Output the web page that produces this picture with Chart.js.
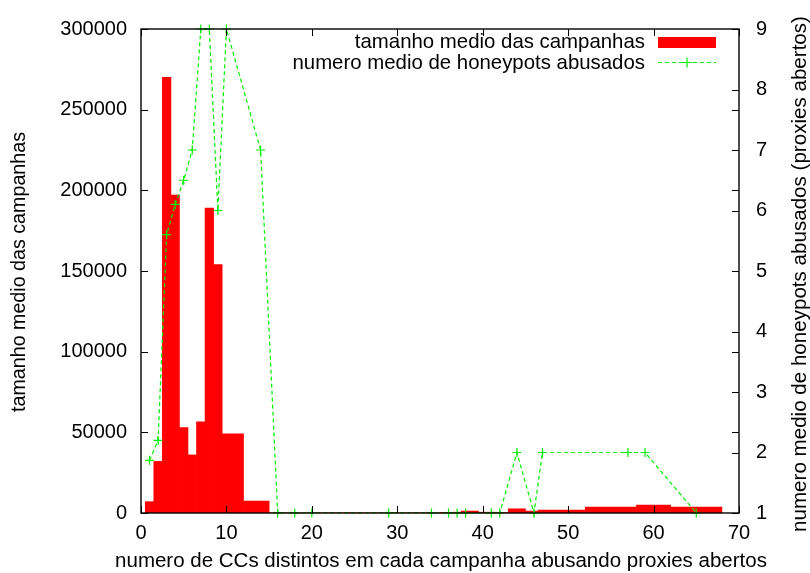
<!DOCTYPE html>
<html>
<head>
<meta charset="utf-8">
<script src="https://cdn.jsdelivr.net/npm/chart.js@4/dist/chart.umd.min.js"></script>
<style>
  body { margin: 0; background: #fff; }
</style>
</head>
<body>
<canvas id="grafico" width="810" height="573"></canvas>
<script>
// dados
const numeroCCs = [1, 2, 3, 4, 5, 6, 7, 8, 9, 10, 14, 16, 18, 20, 29, 34, 36, 37, 38, 41, 42, 44, 46, 47, 57, 59, 65];
const tamanhoMedio = [7000, 32000, 270000, 197000, 53000, 36000, 56500, 189000, 154000, 49000, 7400,
  150, 150, 150, 150, 150, 400, 500, 1200, 500, 300, 2600, 1200, 1800, 3700, 4900, 3700];
const honeypotsMedio = [1.87, 2.2, 5.6, 6.1, 6.5, 7.0, 9, 9, 6.0, 9, 7.0,
  1, 1, 1, 1, 1, 1, 1, 1, 1, 1, 2, 1, 2, 2, 2, 1];

const ticksX = [0, 10, 20, 30, 40, 50, 60, 70];
const ticksEsq = [0, 50000, 100000, 150000, 200000, 250000, 300000];
const ticksDir = [1, 2, 3, 4, 5, 6, 7, 8, 9];

const tituloX = 'numero de CCs distintos em cada campanha abusando proxies abertos';
const tituloEsq = 'tamanho medio das campanhas';
const tituloDir = 'numero medio de honeypots abusados (proxies abertos)';

const fonte = '"Liberation Sans", Arial, sans-serif';
Chart.defaults.font.family = fonte;
Chart.defaults.font.size = 20;
Chart.defaults.color = '#000';

// ajusta o tamanho da fonte para o texto ocupar a largura vista no original
function fonteAjustada(ctx, texto, largura) {
  ctx.font = '20px ' + fonte;
  const tam = 20 * largura / ctx.measureText(texto).width;
  return tam.toFixed(2) + 'px ' + fonte;
}

// moldura, ticks para dentro, legenda e titulos (estilo gnuplot)
const estiloGnuplot = {
  id: 'estiloGnuplot',
  afterDraw(chart) {
    const { ctx, chartArea: a, scales } = chart;
    const L = 7;
    ctx.save();
    ctx.strokeStyle = '#000';
    ctx.lineWidth = 1;
    ctx.beginPath();
    scales.x.ticks.forEach(t => {
      const px = Math.round(scales.x.getPixelForValue(t.value)) + 0.5;
      ctx.moveTo(px, a.bottom); ctx.lineTo(px, a.bottom - L);
      ctx.moveTo(px, a.top); ctx.lineTo(px, a.top + L);
    });
    scales.y.ticks.forEach(t => {
      const py = Math.round(scales.y.getPixelForValue(t.value)) + 0.5;
      ctx.moveTo(a.left, py); ctx.lineTo(a.left + L, py);
      ctx.moveTo(a.right, py); ctx.lineTo(a.right - L, py);
    });
    scales.y2.ticks.forEach(t => {
      const py = Math.round(scales.y2.getPixelForValue(t.value)) + 0.5;
      ctx.moveTo(a.right, py); ctx.lineTo(a.right - L, py);
    });
    ctx.stroke();
    ctx.lineWidth = 1.4;
    ctx.strokeRect(a.left, a.top, a.right - a.left, a.bottom - a.top);

    // legenda
    const ds0 = chart.data.datasets[0];
    const ds1 = chart.data.datasets[1];
    ctx.font = '20.4px ' + fonte;
    ctx.fillStyle = '#000';
    ctx.textAlign = 'right';
    ctx.textBaseline = 'alphabetic';
    ctx.fillText(ds0.label, 645, 48);
    ctx.fillText(ds1.label, 645, 69);
    ctx.fillStyle = ds0.backgroundColor;
    ctx.fillRect(658, 37, 58, 11);
    ctx.strokeStyle = ds1.borderColor;
    ctx.lineWidth = ds1.borderWidth;
    ctx.setLineDash(ds1.borderDash);
    ctx.beginPath();
    ctx.moveTo(658, 62.5); ctx.lineTo(716, 62.5);
    ctx.stroke();
    ctx.setLineDash([]);
    ctx.beginPath();
    ctx.moveTo(682, 62.5); ctx.lineTo(692, 62.5);
    ctx.moveTo(687, 57.5); ctx.lineTo(687, 67.5);
    ctx.stroke();

    // titulos dos eixos
    ctx.fillStyle = '#000';
    ctx.textAlign = 'center';
    ctx.textBaseline = 'middle';
    ctx.font = fonteAjustada(ctx, tituloX, 652);
    ctx.fillText(tituloX, 441, 561);

    ctx.save();
    ctx.font = fonteAjustada(ctx, tituloEsq, 280);
    ctx.translate(20, 272);
    ctx.rotate(-Math.PI / 2);
    ctx.fillText(tituloEsq, 0, 0);
    ctx.restore();

    ctx.font = fonteAjustada(ctx, tituloDir, 516);
    ctx.translate(800, 274);
    ctx.rotate(-Math.PI / 2);
    ctx.fillText(tituloDir, 0, 0);
    ctx.restore();
  }
};

const ctx = document.getElementById('grafico').getContext('2d');

new Chart(ctx, {
  type: 'bar',
  data: {
    datasets: [
      {
        label: 'tamanho medio das campanhas',
        data: numeroCCs.map((x, i) => ({ x: x, y: tamanhoMedio[i] })),
        backgroundColor: '#ff0000',
        borderWidth: 0,
        barThickness: 'flex',
        categoryPercentage: 1,
        barPercentage: 1,
        yAxisID: 'y',
        order: 2
      },
      {
        type: 'line',
        label: 'numero medio de honeypots abusados',
        data: numeroCCs.map((x, i) => ({ x: x, y: honeypotsMedio[i] })),
        borderColor: '#00ee00',
        borderWidth: 1.2,
        borderDash: [4, 3],
        pointStyle: 'cross',
        pointRadius: 4.5,
        pointBorderColor: '#00ee00',
        pointBorderWidth: 1.2,
        tension: 0,
        fill: false,
        clip: false,
        yAxisID: 'y2',
        order: 1
      }
    ]
  },
  options: {
    responsive: false,
    animation: false,
    devicePixelRatio: 1,
    layout: { padding: { top: 25, left: 0, right: 0, bottom: 0 } },
    plugins: {
      legend: { display: false },
      tooltip: { enabled: false }
    },
    scales: {
      x: {
        type: 'linear',
        offset: false,
        min: 0,
        max: 70,
        grid: { display: false, drawTicks: false },
        border: { display: false },
        afterBuildTicks: s => { s.ticks = ticksX.map(v => ({ value: v })); },
        afterFit: s => { s.height = 60; },
        ticks: { padding: 8, maxRotation: 0 }
      },
      y: {
        position: 'left',
        min: 0,
        max: 300000,
        grid: { display: false, drawTicks: false },
        border: { display: false },
        afterBuildTicks: s => { s.ticks = ticksEsq.map(v => ({ value: v })); },
        afterFit: s => { s.width = 141; },
        ticks: { padding: 14, callback: v => String(v) }
      },
      y2: {
        position: 'right',
        min: 1,
        max: 9,
        grid: { display: false, drawTicks: false },
        border: { display: false },
        afterBuildTicks: s => { s.ticks = ticksDir.map(v => ({ value: v })); },
        afterFit: s => { s.width = 71; },
        ticks: { padding: 17 }
      }
    }
  },
  plugins: [estiloGnuplot]
});
</script>
</body>
</html>
